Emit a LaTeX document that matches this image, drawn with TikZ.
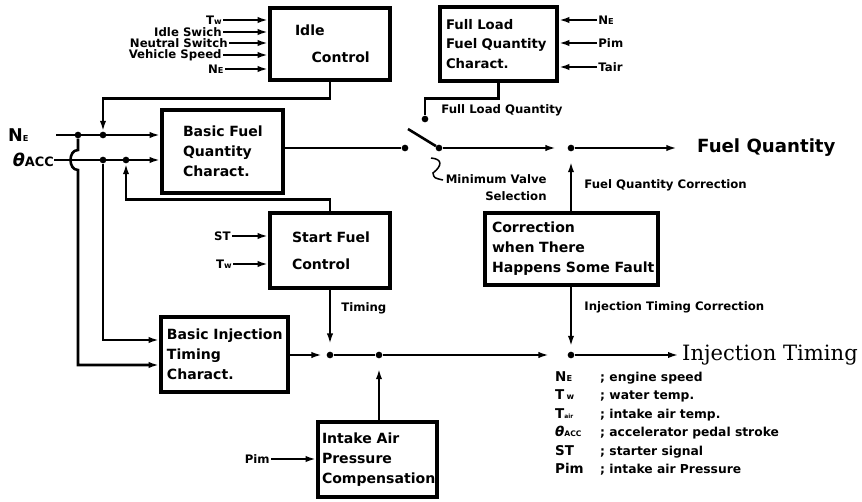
\documentclass[tikz,border=0pt]{standalone}
\usepackage{fontspec}
\setmainfont{DejaVu Sans}
\newfontfamily\serifbig{DejaVu Serif}
\usetikzlibrary{arrows.meta}

\newcommand{\subE}{{\fontsize{7}{7}\selectfont E}}
\newcommand{\subw}{{\fontsize{7}{7}\selectfont w}}
\newcommand{\nohyph}{\hyphenpenalty=10000\relax\exhyphenpenalty=10000\relax}

\begin{document}
\begin{tikzpicture}[x=0.03cm, y=-0.03cm,
    blk/.style={draw, line width=3pt, align=left, inner ysep=0pt,
        font=\fontsize{12}{17}\selectfont\bfseries\nohyph},
    sig/.style={line width=2.2pt},
    arr/.style={sig, -{Latex[length=0.32cm, width=0.19cm]}},
    dot/.style={circle, fill, inner sep=0pt, minimum size=0.2cm},
    lbl/.style={font=\fontsize{10}{14.5}\selectfont\bfseries, inner sep=1pt},
    key/.style={font=\fontsize{10.5}{11}\selectfont\bfseries, inner sep=0pt, anchor=base west},
    keysym/.style={key, font=\fontsize{11.5}{12}\selectfont\bfseries},
]

    \useasboundingbox (0,0) rectangle (862,502);

    % Blocks
    \node[blk, text width=2.1cm, inner xsep=0.75cm, minimum height=2.16cm] (idle) at (330,44) {Idle\\[6pt]\hspace*{0.5cm}Control};
    \node[blk, text width=2.37cm, inner xsep=0.63cm, minimum height=2.49cm] (fuelbasic) at (222.5,151.5) {Basic~Fuel\\Quantity\\Charact.};
    \node[blk, text width=3.15cm, inner xsep=0.18cm, minimum height=2.22cm,
        font=\fontsize{11.3}{16.5}\selectfont\bfseries\nohyph] (fullload) at (498.5,44) {Full~Load\\Fuel~Quantity\\Charact.};
    \node[blk, text width=2.28cm, inner xsep=0.66cm, minimum height=2.25cm] (start) at (330,250.5) {Start~Fuel\\[6pt]Control};
    \node[blk, text width=4.77cm, inner xsep=0.21cm, minimum height=2.16cm] (corr) at (571.5,249) {Correction\\when~There\\Happens~Some~Fault};
    \node[blk, text width=3.45cm, inner xsep=0.18cm, minimum height=2.25cm] (injbasic) at (224.5,354.5) {Basic~Injection\\Timing\\Charact.};
    \node[blk, text width=3.33cm, inner xsep=0.12cm, minimum height=2.25cm] (intake) at (377.5,459.5) {Intake~Air\\Pressure\\Compensation};

    % Junction dots
    \node[dot] (nA) at (78,135) {};
    \node[dot] (nB) at (103,135) {};
    \node[dot] (tA) at (103,160) {};
    \node[dot] (tB) at (126,160) {};
    \node[dot] (sw1) at (405,148) {};
    \node[dot] (sw2) at (425,119) {};
    \node[dot] (piv) at (439,148) {};
    \node[dot] (jF) at (571,148) {};
    \node[dot] (j1) at (330,355) {};
    \node[dot] (j2) at (379,355) {};
    \node[dot] (jI) at (571,355) {};

    % Main inputs
    \node[anchor=west, inner sep=0pt, font=\fontsize{15}{15}\selectfont\bfseries] (ne) at (8,135) {N\subE};
    \coordinate (neIn) at (56,135);
    \node[anchor=east, inner sep=0pt, font=\fontsize{15}{15}\selectfont\bfseries] (acc) at (54,160) {{\itshape θ}{\fontsize{11}{11}\selectfont ACC}};
    \draw[arr] (neIn) -- (neIn -| fuelbasic.west);
    \draw[arr] (acc.east) -- (acc.east -| fuelbasic.west);

    % Feedback into the fuel block
    \draw[arr] (idle.south) -- ++(0,17) -| (nB);
    \draw[arr] (start.north) -- ++(0,-12) -| (tB);

    % Branches down to the timing block (one hops over)
    \draw[arr] (tA) |- ([shift={(0,-14.5)}]injbasic.west);
    \draw[arr] (nA) -- (78,150) .. controls (68,150) and (68,170) .. (78,170)
        |- ([shift={(0,10.5)}]injbasic.west);

    % Idle control inputs
    \node[lbl, anchor=east] (idTw) at (223,20) {T\subw};
    \node[lbl, anchor=east] (idSw) at (223,32) {Idle Swich};
    \node[lbl, anchor=east] (idNs) at (229,43) {Neutral Switch};
    \node[lbl, anchor=east] (idVs) at (223,55) {Vehicle Speed};
    \node[lbl, anchor=east] (idNe) at (225,69) {N\subE};
    \draw[arr] (idTw.east) -- (idTw.east -| idle.west);
    \draw[arr] (idSw.east) -- (idSw.east -| idle.west);
    \draw[arr] (idNs.east) -- (idNs.east -| idle.west);
    \draw[arr] (idVs.east) -- (idVs.east -| idle.west);
    \draw[arr] (idNe.east) -- (idNe.east -| idle.west);

    % Full load inputs
    \node[lbl, anchor=west] (flNe) at (597,20) {N\subE};
    \node[lbl, anchor=west] (flPim) at (597,43) {Pim};
    \node[lbl, anchor=west] (flTair) at (597,67) {Tair};
    \draw[arr] (flNe.west) -- (flNe.west -| fullload.east);
    \draw[arr] (flPim.west) -- (flPim.west -| fullload.east);
    \draw[arr] (flTair.west) -- (flTair.west -| fullload.east);

    % Start control inputs
    \node[lbl, anchor=east] (st) at (232,236) {ST};
    \draw[arr] (st.east) -- (st.east -| start.west);
    \node[lbl, anchor=east] (tw) at (233,264) {T\subw};
    \draw[arr] (tw.east) -- (tw.east -| start.west);

    \node[lbl, anchor=east] (pim) at (271,459) {Pim};
    \draw[arr] (pim.east) -- (pim.east -| intake.west);

    % Minimum value switch
    \draw[sig] (fuelbasic.east |- sw1) -- (sw1);
    \draw[sig] (fullload.south) -- ++(0,16) -| (sw2);
    \node[lbl, anchor=west] (flq) at (440,110) {Full Load Quantity};
    \coordinate (blade) at (408,129);
    \draw[sig] (piv) -- (blade);
    \draw[line width=1.3pt] (431,158) .. controls (443,159) and (442,166) .. (433,173)
        .. controls (434,178) .. (443,180);
    \node[lbl, align=right, anchor=east] (minsel) at (548,188) {Minimum~Valve\\Selection};

    % Fuel quantity output
    \draw[arr, shorten >=0.34cm] (piv) -- (jF);
    \node[anchor=west, inner sep=0pt, font=\fontsize{15.5}{16}\selectfont\bfseries] (fq) at (697,148) {Fuel Quantity};
    \draw[arr, shorten >=0.6cm] (jF) -- (fq.west);
    \draw[arr, shorten >=0.3cm] (corr.north -| jF) -- (jF);
    \node[lbl, anchor=west] (fqc) at (583,185) {Fuel Quantity Correction};

    % Injection timing output
    \draw[arr, shorten >=0.13cm] (injbasic.east |- j1) -- (j1);
    \draw[arr, shorten >=0.22cm] (start.south -| j1) -- (j1);
    \node[lbl, anchor=west] (tmg) at (340,308) {Timing};
    \draw[sig] (j1) -- (j2);
    \draw[arr, shorten >=0.3cm] (intake.north -| j2) -- (j2);
    \draw[arr, shorten >=0.55cm] (j2) -- (jI);
    \draw[arr, shorten >=0.15cm] (corr.south -| jI) -- (jI);
    \node[lbl, anchor=west] (itc) at (583,307) {Injection Timing Correction};
    \node[anchor=west, inner sep=0pt, font=\serifbig\fontsize{18}{18}\selectfont] (it) at (682,355) {Injection Timing};
    \draw[arr, shorten >=0.1cm] (jI) -- (it.west);

    % Legend
    \node[keysym] (kNe) at (555,381) {N\subE};
    \node[key] (tNe) at (600,381) {; engine speed};
    \node[keysym] (kTw) at (555,399.5) {T\,\subw};
    \node[key] (tTw) at (600,399.5) {; water temp.};
    \node[keysym] (kTa) at (555,418) {T{\fontsize{5}{5}\selectfont air}};
    \node[key] (tTa) at (600,418) {; intake air temp.};
    \node[keysym] (kAcc) at (555,436.5) {{\itshape θ}{\fontsize{6.5}{6.5}\selectfont ACC}};
    \node[key] (tAcc) at (600,436.5) {; accelerator pedal stroke};
    \node[keysym] (kSt) at (555,455) {ST};
    \node[key] (tSt) at (600,455) {; starter signal};
    \node[keysym] (kPim) at (555,473.5) {Pim};
    \node[key] (tPim) at (600,473.5) {; intake air Pressure};

\end{tikzpicture}
\end{document}
